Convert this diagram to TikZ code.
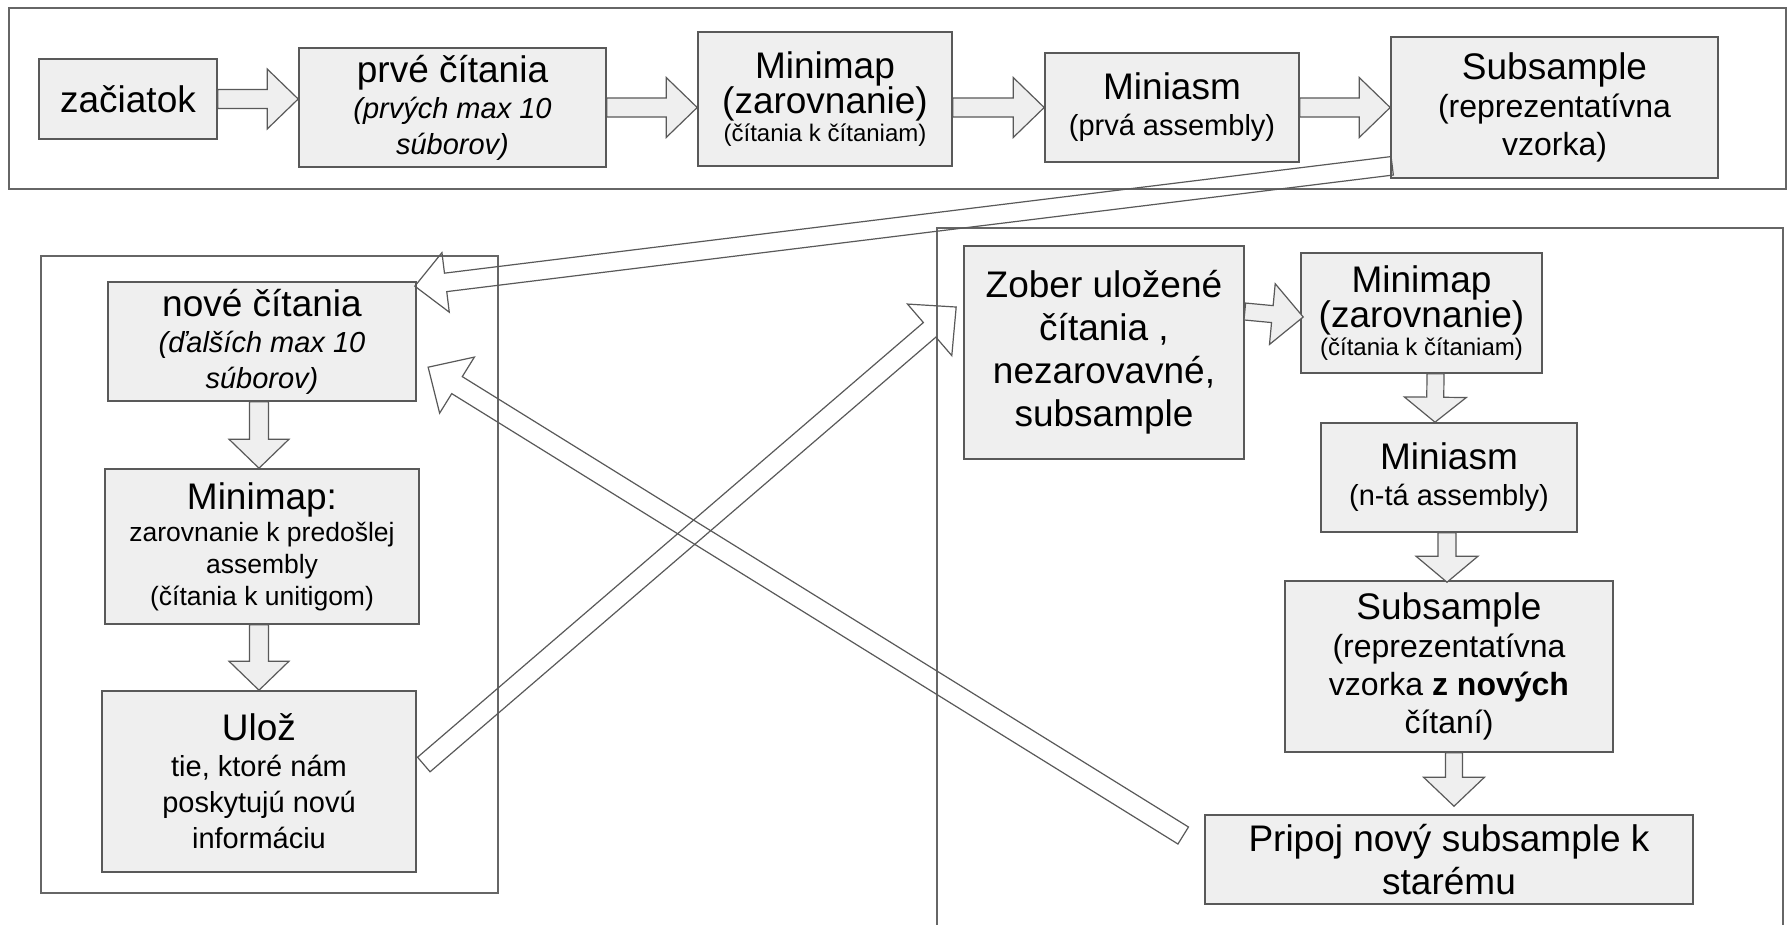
\documentclass[tikz,border=0pt]{standalone}
\usepackage{fontspec}
\setmainfont{Liberation Sans}
\usetikzlibrary{calc,positioning}

\definecolor{boxfill}{HTML}{EFEFEF}
\definecolor{boxline}{HTML}{595959}
\definecolor{frameline}{HTML}{666666}

\newcommand{\fbig}{\fontsize{37}{43}\selectfont}
\newcommand{\fmid}{\fontsize{32}{38}\selectfont}
\newcommand{\fsub}{\fontsize{29}{36}\selectfont}
\newcommand{\fsmall}{\fontsize{26.5}{32}\selectfont}
\newcommand{\ftiny}{\fontsize{24}{28}\selectfont}

% block arrow: [style]{from}{to}{half shaft}{half head}{head length}
\newcommand{\fatarrow}[6][]{%
  \draw[blockarrow,#1] let \p1=(#2), \p2=(#3),
      \n1={atan2(\y2-\y1,\x2-\x1)}, \n2={veclen(\x2-\x1,\y2-\y1)} in
    [shift={(\p1)}, rotate=\n1]
    (0pt,#4pt) -- ({\n2-#6pt},#4pt) -- ({\n2-#6pt},#5pt) -- (\n2,0pt)
    -- ({\n2-#6pt},-#5pt) -- ({\n2-#6pt},-#4pt) -- (0pt,-#4pt) -- cycle;}

\begin{document}
\begin{tikzpicture}[x=1pt, y=-1pt,
    box/.style={draw=boxline, fill=boxfill, line width=1.6pt, align=center, inner sep=0pt},
    frame/.style={draw=frameline, line width=1.6pt},
    blockarrow/.style={draw=boxline, fill=boxfill, line width=1.2pt, line join=miter},
    hollow/.style={fill=none}]

  \fill[white] (0,0) rectangle (1788,924);
  \useasboundingbox (0,0) rectangle (1788,924);

  % frames
  \draw[frame] (9,8) rectangle (1786,189);
  \draw[frame] (41,256) rectangle (498,893);
  \draw[frame] (937,930) -- (937,228) -- (1783,228) -- (1783,930);

  % first pass
  \node[box, minimum width=178, minimum height=80, font=\fbig] (start) at (128,99) {začiatok};
  \node[box, minimum width=307, minimum height=119, font=\fsub] (first) at (452.5,107.5)
    {{\fbig prvé čítania}\\\textit{(prvých max 10}\\\textit{súborov)}};
  \node[box, minimum width=254, minimum height=134, font=\ftiny] (map1) at (825,99)
    {{\fbig Minimap}\\{\fbig (zarovnanie)}\\(čítania k čítaniam)};
  \node[box, minimum width=254, minimum height=109, font=\fsub] (asm1) at (1172,107.5)
    {{\fbig Miniasm}\\(prvá assembly)};
  \node[box, minimum width=327, minimum height=141, font=\fmid] (sub1) at (1554.5,107.5)
    {{\fbig Subsample}\\(reprezentatívna\\vzorka)};

  % new reads
  \node[box, minimum width=308, minimum height=119, font=\fsub] (new) at (262,341.5)
    {{\fbig nové čítania}\\\textit{(ďalších max 10}\\\textit{súborov)}};
  \node[box, minimum width=314, minimum height=155, font=\fsmall] (map2) at (262,546.5)
    {{\fbig Minimap:}\\zarovnanie k predošlej\\assembly\\(čítania k unitigom)};
  \node[box, minimum width=314, minimum height=181, font=\fsub] (store) at (259,781.5)
    {{\fbig Ulož}\\tie, ktoré nám\\poskytujú novú\\informáciu};

  % stored reads
  \node[box, minimum width=280, minimum height=213, font=\fbig] (take) at (1104,352.5)
    {Zober uložené\\čítania ,\\nezarovavné,\\subsample};
  \node[box, minimum width=241, minimum height=120, font=\ftiny] (map3) at (1421.5,313)
    {{\fbig Minimap}\\{\fbig (zarovnanie)}\\(čítania k čítaniam)};
  \node[box, minimum width=256, minimum height=109, font=\fsub] (asm2) at (1449,477.5)
    {{\fbig Miniasm}\\(n-tá assembly)};
  \node[box, minimum width=328, minimum height=171, font=\fmid] (sub2) at (1449,666.5)
    {{\fbig Subsample}\\(reprezentatívna\\vzorka \textbf{z nových}\\čítaní)};
  \node[box, minimum width=488, minimum height=89, font=\fbig] (append) at (1449,859.5)
    {Pripoj nový subsample k\\starému};

  % block arrows
  \fatarrow{start.east}{start.east -| first.west}{9.5}{30}{31}
  \fatarrow{first.east}{first.east -| map1.west}{9.5}{30}{31}
  \fatarrow{map1.east |- asm1.west}{asm1.west}{9.5}{30}{31}
  \fatarrow{asm1.east}{sub1.west}{9.5}{30}{31}
  \fatarrow{$(new.south)+(-3,0)$}{$(map2.north)+(-3,0)$}{9.5}{30}{29}
  \fatarrow{$(map2.south)+(-3,0)$}{$(store.north)+(0,0)$}{9.5}{30}{29}
  \fatarrow{$(take.east)+(0,-41)$}{$(map3.west)+(3,4)$}{8.5}{30.5}{31}
  \fatarrow{$(map3.south)+(14,0)$}{$(asm2.north)+(-14,0)$}{8.5}{31}{25}
  \fatarrow{$(asm2.south)+(-2,0)$}{$(sub2.north)+(-2,2)$}{9}{31}{26}
  \fatarrow{$(sub2.south)+(5,0)$}{$(append.north)+(5,-8)$}{8.5}{30.5}{29}

  % feedback arrows
  \fatarrow[hollow]{$(sub1.south west)+(2,-13)$}{$(new.north east)+(-2,5)$}{9.3}{30}{31}
  \fatarrow[hollow]{$(append.west)+(-21,-24)$}{$(new.east)+(11,25.5)$}{10}{33}{34}
  \fatarrow[hollow]{$(store.east)+(7,-17)$}{$(take.west)+(-7,-45.5)$}{9.6}{34}{35}
\end{tikzpicture}
\end{document}
